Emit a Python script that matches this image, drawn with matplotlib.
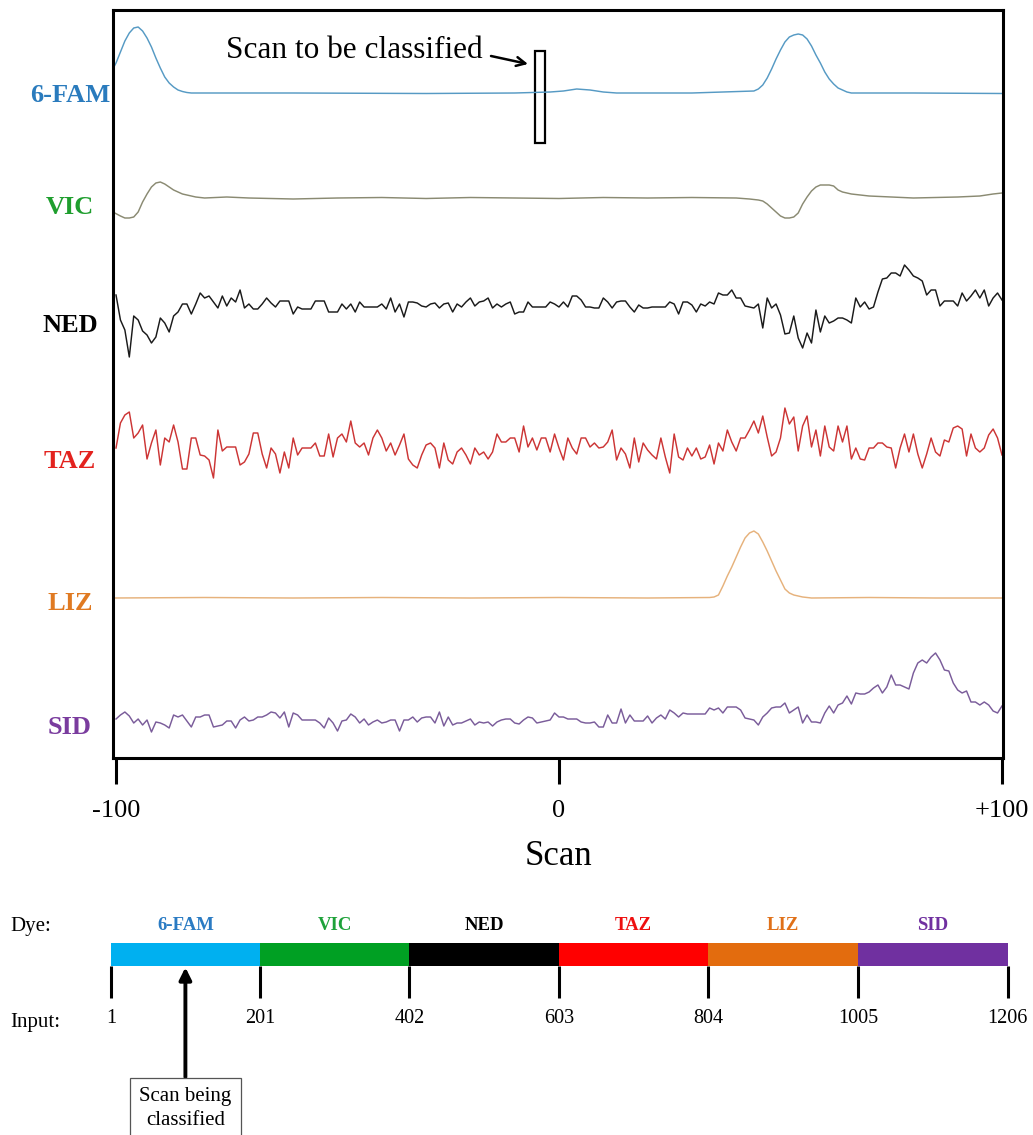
import numpy as np
import matplotlib.pyplot as plt
from matplotlib import transforms
from matplotlib.patches import Rectangle

plt.rcParams['font.family'] = ['Liberation Serif', 'DejaVu Serif']

W, H = 1033, 1135

# scan window around the scan being classified
scans = np.arange(-100, 101)

# noisy traces, one value per scan (signal above each trace's baseline)
ned = [10, -15, -25, -52, -11, -15, -26, -30, -38, -32,
       -13, -18, -27, -11, -7, 1, 1, -9, 1, 12,
       7, 9, 3, -3, 9, -1, 7, 3, 15, -3,
       1, -4, -4, 1, 7, 2, -2, 4, 4, 4,
       -9, -2, -4, -4, -4, 4, 4, 4, -7, -7,
       -7, 1, -4, 1, -7, 3, -2, -2, -2, -2,
       1, -4, 7, -7, 1, -12, 3, 3,
       2, -1, -2, 1, 2, -3, 1, 2, -7, 1,
       -2, 3, 7, -1, 3, 4, 7, -3, 1, -2,
       1, 3, -9, -7, -7, 3, -2, -2, -2, -2,
       3, 1, -2, 3, -2, 9, 9, 5, -2, -2,
       -3, -3, 7, 3, -3, 3, 4, 4, -2, -7,
       0, -3, -3, -2, -2, -2, -2, 3, 1, -9,
       3, 3, 0, -7, 1, -1, 3,
       1, 12, 10, 10, 15, 7, 7, -1, -2, -3,
       1, -23, 7, -3, 1, -10, -29, -28, -11, -33,
       -43, -28, -38, -5, -27, -11, -18, -16, -13, -13,
       -15, -18, 7, -2, 3, -4, -2, 13, 26, 27,
       32, 32, 29, 40, 35, 29, 27, 24, 10, 15,
       15, -1, 4, 4, 4, -1, 12, 4, 9, 15,
       7, 15, -1, 7, 12, 5]
taz = [-3, 22, 30, 33, 7, 12, 20, -14, 2, 15,
       -20, 7, 3, 20, 3, -24, -24, 7, 7, -10,
       -11, -15, -33, 15, -6, -2, -2, -2, -20, -17,
       -9, 12, 12, -9, -23, -3, -9, -28, -7, -23,
       7, -10, -3, -3, -3, 2, -11, -11, 11, -12,
       7, 11, 3, 24, 2, -2, 2, -10, 7, 15,
       7, -6, 2, -10, 0, 11, -14, -20,
       -23, -10, 0, 2, -3, -23, 2, -15, -19, -7,
       -3, -10, -19, -3, -10, -7, -14, -7, 11, 3,
       3, 7, 7, -7, 19, -2, 7, -5, 7, 7,
       -7, 11, -3, -15, 7, -3, -9, 7, 7, -2,
       2, -3, -2, 3, 15, -15, -3, -9, -23, 7,
       -17, 2, -5, -10, -14, 7, -12, -28, 11, -12,
       -15, -3, -11, -3, -14, -12, 0,
       -19, 2, -6, 15, 3, -6, 7, 7, 15, 24,
       12, 29, 8, -11, -7, 7, 37, 21, 28, -6,
       19, 29, -2, 15, -11, 19, -2, -6, 19, 3,
       19, -14, -3, -14, -15, -3, -3, 2, 2, -2,
       -3, -23, -3, 11, -7, 11, -9, -23, -9, 7,
       -7, -11, 5, 3, 17, 19, 16, -11, 11, -3,
       -7, -3, 10, 16, 7, -10]
sid = [-1, 3, 6, 2, -5, -1, -7, -2, -14, -4,
       -5, -7, -10, 3, 1, 3, -3, -9, 1, 1,
       3, 3, -9, -8, -7, -3, -3, -10, -2, 1,
       -3, -2, 1, 1, 3, 6, 5, 0, 6, -9,
       5, 3, -2, -2, -2, -2, -5, -10, 0, -5,
       -13, -3, -2, 4, 1, -5, -1, -7, -4, -2,
       -5, -4, -2, -2, -13, -2, -2, 1, -4, 0,
       1, 1, -5, 6, -8, 1, -7, -5, -5, -3,
       -1, -7, -4, -5, -4, -8, -4, -2, -1, -1,
       -5, -6, -2, 1, 0, -5, -4, -3, -2,
       5, 1, 1, -1, -1, -1, -4, -5,
       -5, -4, -9, -9, 3, -5, -5, 9, -5, 3,
       -3, -3, -3, 2, -5, 0, 3, -1, 8, 5,
       1, 5, 4, 4, 4, 4, 4, 10, 8, 10,
       5, 11, 11, 11, 8, 0, -1, -2, -7, 1,
       5, 10, 11, 11, 15, 5, 8, 11, -5, 3,
       -4, -4, -5, 5, 12, 5, 13, 15, 22, 14,
       25, 24, 24, 26, 30, 33, 25, 31, 43, 33,
       33, 31, 29, 45, 55, 58, 55, 61, 65, 58,
       48, 47, 35, 28, 25, 27, 16, 16, 13, 16,
       13, 7, 5, 12]

# smooth traces, read at selected scans
fam_x = [-100.7, -100, -99, -98, -97, -96, -95, -94, -93, -92, -91, -90, -89, -88, -87, -86, -85, -84, -83,
         -60, -30, -10, -2, 1, 4, 7, 10, 13, 30,
         44, 45, 46, 47, 48, 49, 50, 51, 52, 53, 54, 55, 56, 57, 58, 59, 60, 61, 62, 63, 64, 65, 66, 80, 100]
fam_y = [24, 30, 41, 52, 60, 65, 66, 62, 55, 46, 35, 25, 16, 10, 6, 3, 1.5, 0.5, 0,
         0, -0.5, 0, 1, 2, 4, 3, 1, 0, 0,
         2, 4, 8, 15, 24, 34, 43, 51, 56, 58, 59, 58, 54, 47, 38, 30, 21, 14, 9, 5, 3, 1, 0, 0, -0.5]
vic_x = [-100.7, -99, -98, -97, -96, -95, -94, -93, -92, -91, -90, -89, -88, -87, -86, -85, -84,
         -82, -80, -75, -70, -60, -50, -40, -30, -20, -10, 0, 10, 20, 30, 40, 43, 45,
         46, 47, 48, 49, 50, 51, 52, 53, 54, 55, 56, 57, 58, 59, 60, 61, 62, 63, 64,
         66, 70, 75, 80, 85, 90, 95, 98, 100]
vic_y = [-14, -18, -20, -20, -19, -14, -4, 4, 11, 15, 16, 14, 11, 8, 6, 4, 3,
         1, 0, 1, 0, -1, 0, 0.5, -0.5, 0.5, 0, -0.5, 0.5, 0, 0.5, 0, -1, -2,
         -3, -6, -10, -14, -18, -20, -20, -19, -15, -6, 1, 7, 11, 13, 13, 13, 12, 8, 6,
         4, 2, 1, 0, 0.5, 1, 2, 4, 5]
liz_x = [-100.7, -80, -60, -40, -20, 0, 20, 34,
         35, 36, 37, 38, 39, 40, 41, 42, 43, 44, 45, 46, 47, 48, 49, 50, 51, 52, 53,
         55, 57, 70, 85, 100]
liz_y = [0, 0.5, 0, 0.5, 0, 0.5, 0, 0.5,
         1, 3, 12, 22, 31, 41, 51, 60, 65, 67, 64, 56, 47, 37, 27, 18, 9, 5, 3,
         1, 0, 0.5, 0, 0]

dyes = ['6-FAM', 'VIC', 'NED', 'TAZ', 'LIZ', 'SID']
trace_x = [fam_x, vic_x, scans, scans, liz_x, scans]
trace_y = [fam_y, vic_y, ned, taz, liz_y, sid]
trace_colors = ['#569ac4', '#8a8a72', '#1a1a1a', '#cc3535', '#e6b27c', '#7a5c9a']
label_colors = ['#2a7bbd', '#1f9e2e', '#000000', '#e3221e', '#e07a22', '#7a3c9e']
baselines = [665, 560, 453, 313, 160, 40]
label_py = [95, 207, 326, 461, 604, 727]

input_edges = [1, 201, 402, 603, 804, 1005, 1206]
bar_colors = ['#00b0f0', '#00a023', '#000000', '#ff0000', '#e36c0e', '#7030a0']
bar_label_colors = ['#2a7bc3', '#1ea23a', '#000000', '#ee1010', '#e07018', '#7030a0']
marked_scan = -4.3
marked_input = 101


def fx(px):
    return px / W


def fy(py):
    return 1 - py / H


fig = plt.figure(figsize=(W / 100, H / 100), dpi=100)

# top panel: six dye traces
ax = fig.add_axes([fx(113), fy(758), (1003 - 113) / W, (758 - 10) / H])
for xs, ys, c, b in zip(trace_x, trace_y, trace_colors, baselines):
    ax.plot(xs, b + np.array(ys, dtype=float), color=c, lw=1.05)
ax.set_xlim(-100.68, 100.23)
ax.set_ylim(0, 748)
for sp in ax.spines.values():
    sp.set_linewidth(2.2)
ax.set_yticks([])
ax.set_xticks([-100, 0, 100])
ax.set_xticklabels(['-100', '0', '+100'], fontsize=19)
ax.tick_params(axis='x', direction='out', length=19, width=2.2, pad=11)
ax.set_xlabel('Scan', fontsize=25, labelpad=13)

for name, c, py in zip(dyes, label_colors, label_py):
    fig.text(fx(70), fy(py), name, color=c, fontsize=19, fontweight='bold',
             ha='center', va='center')

ax.add_patch(Rectangle((marked_scan - 1.1, 615), 2.25, 92, fill=False, ec='black', lw=1.6))
fig.text(fx(354), fy(51), 'Scan to be classified', fontsize=22.5, ha='center', va='center')
ax.annotate('', xy=(fx(528), fy(64)), xycoords='figure fraction',
            xytext=(fx(491), fy(56)), textcoords='figure fraction',
            arrowprops=dict(arrowstyle='->', lw=1.8, color='black', mutation_scale=16,
                            shrinkA=0, shrinkB=0))

# bottom panel: dye / input layout
ax2 = fig.add_axes([fx(111), fy(966), (1007.5 - 111) / W, 23 / H])
starts = input_edges[:-1]
widths = np.diff(input_edges)
ax2.barh(0.5, widths, left=starts, height=1, color=bar_colors, edgecolor='none')
ax2.set_xlim(input_edges[0], input_edges[-1])
ax2.set_ylim(0, 1)
for sp in ax2.spines.values():
    sp.set_visible(False)
ax2.set_yticks([])
ax2.set_xticks(input_edges)
ax2.set_xticklabels([str(v) for v in input_edges], fontsize=14.5)
ax2.tick_params(axis='x', direction='out', length=23, width=2.2, pad=8)

blend = transforms.blended_transform_factory(ax2.transData, fig.transFigure)
for s, w, name, c in zip(starts, widths, dyes, bar_label_colors):
    ax2.text(s + w / 2, fy(925), name, transform=blend, color=c, fontsize=13.5,
             fontweight='bold', ha='center', va='center')
fig.text(fx(10), fy(926), 'Dye:', fontsize=15, ha='left', va='center')
fig.text(fx(10), fy(1022), 'Input:', fontsize=15, ha='left', va='center')

ax2.annotate('Scan being\nclassified', xy=(marked_input, 0), xycoords='data',
             xytext=(marked_input, fy(1087)), textcoords=blend,
             ha='center', va='top', fontsize=15, linespacing=1.35, annotation_clip=False,
             bbox=dict(boxstyle='square,pad=0.45', fc='white', ec='#555555', lw=0.9),
             arrowprops=dict(arrowstyle='-|>', lw=2.8, color='black', mutation_scale=18,
                             shrinkA=0, shrinkB=1))

fig.savefig('out.png', dpi=100)
